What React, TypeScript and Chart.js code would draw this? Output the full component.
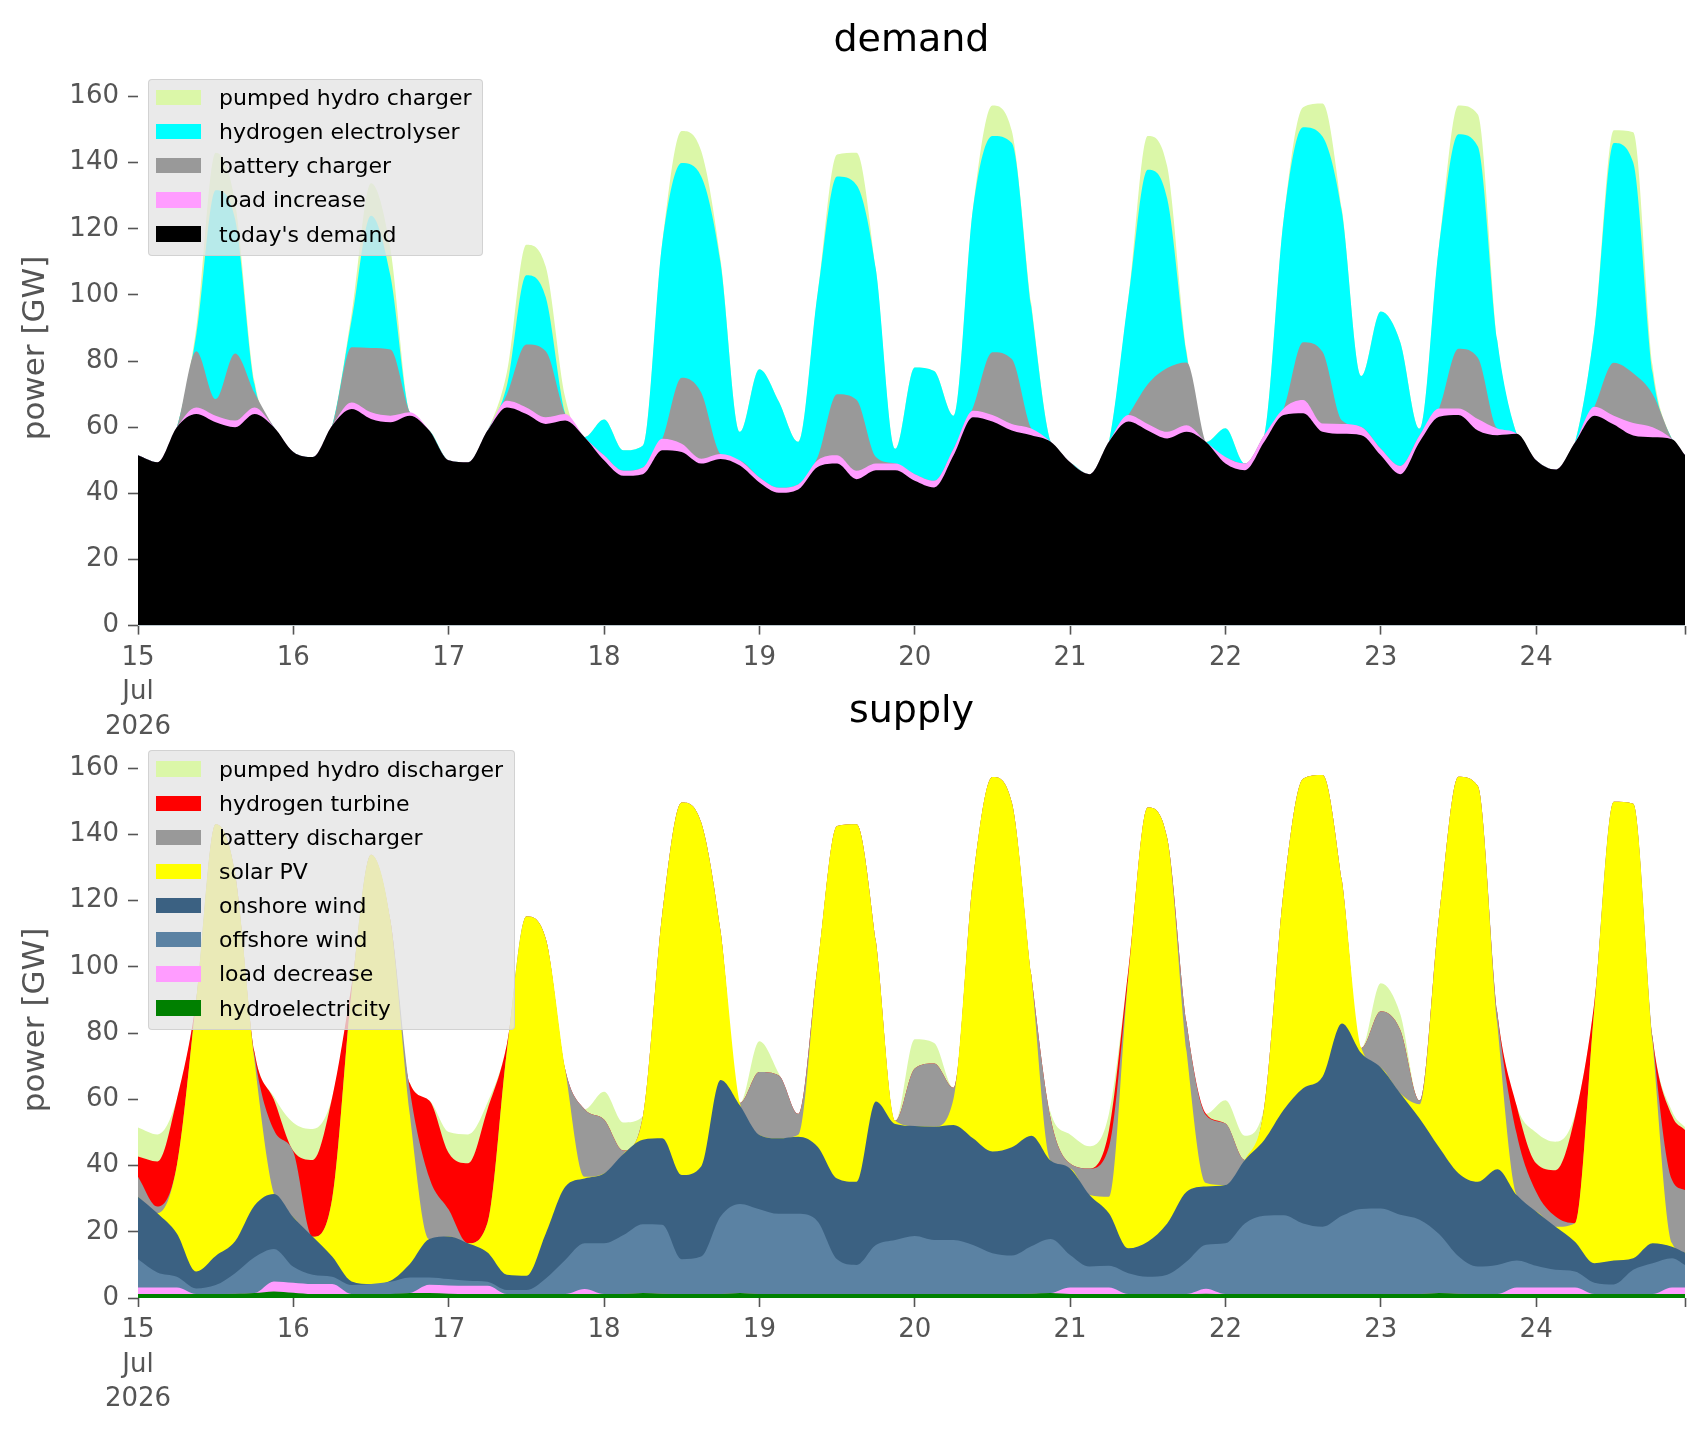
import React, { useEffect, useRef } from "react";
import { Chart, registerables } from "chart.js";

Chart.register(...registerables);

// ---------- time axis (hours since 15 Jul 2026 00:00) ----------
const hours: number[] = Array.from({ length: 80 }, (_, i) => i * 3).concat([239]);
const dayTicks = [0, 24, 48, 72, 96, 120, 144, 168, 192, 216, 239];
const dayLabels = ["15", "16", "17", "18", "19", "20", "21", "22", "23", "24", ""];
const monthLabel = "Jul";
const yearLabel = "2026";
const yTicks = [0, 20, 40, 60, 80, 100, 120, 140, 160];

// ---------- demand (GW) ----------
const todaysDemand = [
  51.5, 49.4, 60, 64, 61.5, 60, 64, 60,
  52.5, 51, 60.5, 65.5, 62.5, 61.5, 63.5, 59,
  50, 49.4, 59, 66, 64, 61, 62, 57,
  50, 45.3, 45.8, 53, 52.5, 49, 50.4, 48.4,
  43.3, 40.2, 41.2, 48, 49, 44.3, 47, 47,
  43.8, 41.8, 51.5, 63, 61.7, 59, 57.6, 55.6,
  49.4, 45.8, 55.6, 61.7, 59, 56.6, 58.6, 55.5,
  49, 47, 55.6, 63.7, 64.2, 58.6, 58, 57.6,
  51.5, 45.8, 55.6, 63.2, 63.7, 59, 57.6, 58,
  50, 47.2, 55.4, 63.5, 60.8, 57.5, 57, 56.4,
  51.6,
];
const loadIncrease = [
  0, 0, 0, 2, 2, 2, 2, 0,
  0, 0, 0, 2, 2, 2, 1, 0,
  0, 0, 0, 2, 2, 2, 2, 0,
  1.5, 1.5, 2, 3.5, 2.5, 1.5, 1.5, 1.5,
  1.5, 1.5, 1.5, 2, 2.5, 2.5, 2, 2,
  2, 2, 2, 2, 2, 2, 2, 0,
  0, 0, 0, 2, 2, 2, 2, 0,
  2, 2, 2, 2, 4, 2.5, 3, 2.5,
  2, 2.5, 2, 2.5, 2, 3.5, 2, 0,
  0, 0, 0, 2.7, 2.7, 3.8, 3, 0,
  0,
];
const batteryCharger = [
  0, 0, 0, 17, 5, 20.3, 4.4, 0,
  0, 0, 0, 16.7, 19.5, 20, 0, 0,
  0, 0, 0, 2, 19, 20, 0, 0,
  0, 0, 0, 0, 20, 20, 0, 0,
  0, 0, 0, 1, 18.5, 21.5, 2, 0,
  0, 0, 0, 1, 19, 19.6, 0, 0,
  0, 0, 0, 0, 12, 19.3, 19, 0,
  0, 0, 0, 0, 17.5, 21.7, 1, 0,
  0, 0, 0, 0, 18, 18.5, 0, 0,
  0, 0, 0, 0, 16, 15, 10, 0,
  0,
];
const hydrogenElectrolyser = [
  0, 0, 0, 5, 63.2, 40.7, 2.6, 0,
  0, 0, 0, 8.2, 40, 22.3, 0, 0,
  0, 0, 0, 2.7, 21, 16.3, 0, 0,
  10.8, 6.2, 6.7, 59.4, 64.9, 65.4, 57.8, 8.7,
  32.7, 26.1, 12.9, 49.5, 65.8, 65, 56.7, 4.5,
  32.3, 33.2, 10, 60.2, 65.4, 65.4, 36.9, 0,
  0, 0, 0, 35.3, 64.9, 51.3, 2.5, 0,
  8.7, 0, 0, 57.3, 65, 65.1, 63, 15.4,
  41.5, 37.5, 2, 49.2, 64.9, 63.9, 26.6, 0,
  0, 0, 0, 23.2, 66.5, 63.8, 6.4, 0,
  0,
];
const pumpedHydroCharger = [
  0, 0, 0, 2, 11.3, 5, 1, 0,
  0, 0, 0, 2, 9.8, 8.1, 0, 0,
  0, 0, 0, 4, 9.2, 9.2, 5, 0,
  0, 0, 0, 0, 9.7, 7.7, 1, 0,
  0, 0, 0, 0, 6.7, 9.7, 0, 0,
  0, 0, 0, 0, 9.2, 3.6, 1, 0,
  0, 0, 0, 0, 10.2, 9.7, 1, 0,
  0, 0, 0, 0, 6.1, 10, 1, 0,
  0, 0, 0, 0, 8.7, 9.7, 0, 0,
  0, 0, 0, 0, 3.8, 9.1, 2.2, 0,
  0,
];

// ---------- supply (GW) ----------
const hydroelectricity = [
  1.2, 1.2, 1.2, 1.2, 1.2, 1.3, 1.5, 2,
  1.6, 1.2, 1.2, 1.2, 1.2, 1.2, 1.5, 1.5,
  1.3, 1.2, 1.2, 1.2, 1.2, 1.2, 1.2, 1.2,
  1.2, 1.2, 1.5, 1.3, 1.2, 1.2, 1.2, 1.5,
  1.2, 1.2, 1.2, 1.2, 1.2, 1.2, 1.2, 1.2,
  1.2, 1.2, 1.2, 1.2, 1.2, 1.2, 1.3, 1.5,
  1.2, 1.2, 1.2, 1.2, 1.2, 1.2, 1.2, 1.3,
  1.2, 1.2, 1.2, 1.2, 1.2, 1.2, 1.2, 1.2,
  1.2, 1.2, 1.2, 1.5, 1.3, 1.2, 1.2, 1.2,
  1.2, 1.2, 1.2, 1.2, 1.2, 1.2, 1.2, 1.2,
  1.2,
];
const loadDecrease = [
  2, 2, 2, 0, 0, 0, 0, 3,
  3, 3, 3, 0, 0, 0, 0, 2.5,
  2.5, 2.5, 2.5, 0, 0, 0, 0, 1.5,
  0, 0, 0, 0, 0, 0, 0, 0,
  0, 0, 0, 0, 0, 0, 0, 0,
  0, 0, 0, 0, 0, 0, 0, 0,
  2, 2, 2, 0, 0, 0, 0, 1.5,
  0, 0, 0, 0, 0, 0, 0, 0,
  0, 0, 0, 0, 0, 0, 0, 2,
  2, 2, 2, 0, 0, 0, 0, 2,
  2,
];
const offshoreWind = [
  8.5, 4.5, 3.2, 1.7, 2.7, 6.2, 10.8, 9.8,
  4.8, 2.8, 2.2, 2.7, 3, 3.7, 4.7, 2.2,
  1.9, 1.5, 1.2, 1.2, 1.2, 4.7, 10.3, 13.8,
  15.3, 17.8, 20.8, 20.8, 10.5, 11.3, 23.4, 26.9,
  25.6, 24.2, 24.2, 21.9, 10.5, 8.8, 14.8, 16.3,
  17.5, 16.3, 16.3, 14.8, 12.3, 11.6, 14.3, 16.3,
  9.8, 6.3, 6.5, 6.3, 5.2, 5.8, 9.8, 13.3,
  15.3, 21.3, 23.6, 23.8, 21.3, 20.3, 23.6, 25.7,
  25.8, 23.9, 22.4, 17.8, 11.3, 8.3, 8.8, 8.1,
  6.5, 5.3, 4.8, 3.4, 2.9, 7.3, 9.3, 8.8,
  6.8,
];
const onshoreWind = [
  18.9, 17.9, 13.1, 5.1, 8.8, 9.6, 15.6, 16.6,
  15, 11.5, 6.1, 1.1, 0, 0.3, 4.1, 11.6,
  12.9, 11.3, 8.8, 4.6, 4.3, 13.6, 22.1, 19.6,
  21.1, 24.5, 25.5, 26.1, 25.4, 27.2, 41.2, 29.7,
  22.4, 22.8, 23.3, 22.6, 24.4, 25.1, 43.3, 35,
  33.2, 34.2, 34.7, 32.2, 30.7, 32.7, 33.4, 23.7,
  26.1, 21.6, 15.9, 7.5, 10.6, 15.5, 21.1, 17.6,
  17.6, 19.2, 22.9, 31.8, 40.8, 45.3, 58.1, 47,
  42.6, 36.7, 30.6, 26.2, 25.1, 25.6, 28.9, 19.8,
  16.4, 13, 9, 5.9, 7.2, 3.5, 6, 3.5,
  3.7,
];
const solarPV = [
  0, 0, 20.5, 82, 130.3, 111, 43.7, 0,
  0, 0, 17.5, 87.4, 129.6, 108.7, 45, 0,
  0, 0, 9, 67.7, 108.5, 89, 35.4, 0.5,
  0, 0, 7, 67.8, 112.5, 103.9, 44.9, 0.8,
  0, 0, 0.6, 54.8, 106.4, 107.9, 48.4, 1,
  0, 0, 8, 78, 113.1, 104.1, 48.6, 0,
  0, 0, 5, 82, 131.1, 116.4, 42.3, 1,
  0, 0, 9.9, 66.2, 93.5, 91.1, 43.1, 1.6,
  0, 0, 4.3, 69.7, 119.7, 119.5, 44, 0,
  0, 0, 5.6, 76.9, 138.5, 137.2, 60.5, 1,
  0,
];
const batteryDischarger = [
  6, 2, 0, 0, 0, 0, 1.7, 19.3,
  19.7, 0, 0, 0, 0, 0, 7.5, 18.6,
  8.1, 0, 0, 0, 0, 0, 0, 20.4,
  16.3, 1, 0, 0, 0, 0, 0, 0,
  19, 19, 6.3, 0, 0, 0, 0, 0,
  17.4, 19.1, 3.3, 0, 0, 0, 0, 12.7,
  1.5, 8, 15, 0, 0, 0, 8.7, 20.5,
  18.6, 0, 0, 0, 0, 0, 0, 0,
  17, 19.2, 1.1, 0, 0, 0, 3.3, 18.4,
  6, 3.1, 0, 0, 0, 0, 1.6, 19.1,
  18.9,
];
const hydrogenTurbine = [
  6.1, 13.6, 20, 0, 0, 0, 1, 9.2,
  0.3, 23.2, 30.5, 2, 0, 0, 2, 23.2,
  17.1, 24.2, 34.3, 2, 0, 0, 0, 0,
  0, 0, 0, 0, 0, 0, 0, 0,
  0, 0, 0, 0, 0, 0, 0, 0,
  0, 0, 0, 0, 0, 0, 0, 0,
  0, 0, 5, 2, 0, 0, 0, 0.4,
  0, 0, 0, 0, 0, 0, 0, 0,
  0, 0, 0, 0, 0, 0, 0, 8.5,
  8.6, 14, 32.1, 2, 0, 0, 0, 19.4,
  18.1,
];
const pumpedHydroDischarger = [
  8.8, 8.2, 0, 0, 0, 0, 0, 0.9,
  8.5, 9.3, 0, 0, 0, 0, 0, 0,
  6.3, 8.7, 2, 0, 0, 0, 0, 0,
  8.4, 8.5, 0, 0, 0, 0, 0, 0,
  9.3, 0.6, 0, 0, 0, 0, 0, 0,
  8.8, 6.2, 0, 0, 0, 0, 0, 1.7,
  8.8, 6.7, 5, 0, 0, 0, 0, 0,
  7, 7.3, 0, 0, 0, 0, 0, 0,
  8.4, 4.8, 0, 0, 0, 0, 0, 0,
  9.3, 8.6, 0.7, 0, 0, 0, 0, 1.4,
  0.9,
];

type Layer = { label: string; color: string; values: number[] };

// bottom of the stack first
const demandLayers: Layer[] = [
  { label: "today's demand", color: "#000000", values: todaysDemand },
  { label: "load increase", color: "#ff9cff", values: loadIncrease },
  { label: "battery charger", color: "#999999", values: batteryCharger },
  { label: "hydrogen electrolyser", color: "#00ffff", values: hydrogenElectrolyser },
  { label: "pumped hydro charger", color: "#dbf7a8", values: pumpedHydroCharger },
];
const supplyLayers: Layer[] = [
  { label: "hydroelectricity", color: "#008000", values: hydroelectricity },
  { label: "load decrease", color: "#ff9cff", values: loadDecrease },
  { label: "offshore wind", color: "#5b82a3", values: offshoreWind },
  { label: "onshore wind", color: "#3b6182", values: onshoreWind },
  { label: "solar PV", color: "#ffff00", values: solarPV },
  { label: "battery discharger", color: "#999999", values: batteryDischarger },
  { label: "hydrogen turbine", color: "#ff0000", values: hydrogenTurbine },
  { label: "pumped hydro discharger", color: "#dbf7a8", values: pumpedHydroDischarger },
];

const FONT = "'DejaVu Sans', 'Liberation Sans', sans-serif";
const TICK_COLOR = "#555555";
const Y_MAX = 168.5;

function xLabel(v: number): string | string[] {
  const idx = dayTicks.indexOf(v);
  if (idx === 0) return [dayLabels[0], monthLabel, yearLabel];
  return idx >= 0 ? dayLabels[idx] : "";
}

function StackChart(props: {
  layers: Layer[];
  top: number;
  width: number;
  height: number;
  padTop: number;
  xAxisHeight: number;
}) {
  const ref = useRef<HTMLCanvasElement | null>(null);
  useEffect(() => {
    if (!ref.current) return;
    const chart = new Chart(ref.current, {
      type: "line",
      data: {
        datasets: props.layers.map((l) => ({
          label: l.label,
          data: hours.map((h, i) => ({ x: h, y: l.values[i] })),
          backgroundColor: l.color,
          borderColor: l.color,
          borderWidth: 0,
          pointRadius: 0,
          fill: "origin",
          cubicInterpolationMode: "monotone",
        })),
      },
      options: {
        animation: false,
        responsive: false,
        devicePixelRatio: 1,
        events: [],
        layout: { padding: { left: 0, right: 21, top: props.padTop, bottom: 0 } },
        plugins: {
          legend: { display: false },
          tooltip: { enabled: false },
          title: { display: false },
        },
        scales: {
          x: {
            type: "linear",
            min: 0,
            max: 239,
            afterBuildTicks: (s: any) => {
              s.ticks = dayTicks.map((v) => ({ value: v }));
            },
            afterFit: (s: any) => {
              s.height = props.xAxisHeight;
            },
            ticks: {
              autoSkip: false,
              maxRotation: 0,
              minRotation: 0,
              padding: 6,
              color: TICK_COLOR,
              font: { family: FONT, size: 26, lineHeight: 1.33 },
              callback: (v: any) => xLabel(Number(v)),
            },
            grid: {
              display: true,
              drawOnChartArea: false,
              drawTicks: true,
              tickLength: 9,
              tickColor: TICK_COLOR,
              tickWidth: 1.6,
            },
            border: { display: false },
          },
          y: {
            type: "linear",
            stacked: true,
            min: 0,
            max: Y_MAX,
            afterBuildTicks: (s: any) => {
              s.ticks = yTicks.map((v) => ({ value: v }));
            },
            afterFit: (s: any) => {
              s.width = 138;
            },
            ticks: {
              padding: 9,
              color: TICK_COLOR,
              font: { family: FONT, size: 26 },
              callback: (v: any) => String(v),
            },
            grid: {
              display: true,
              drawOnChartArea: false,
              drawTicks: true,
              tickLength: 10,
              tickColor: TICK_COLOR,
              tickWidth: 1.6,
            },
            border: { display: false },
          },
        },
      } as any,
    });
    return () => chart.destroy();
  }, []);
  return (
    <canvas
      ref={ref}
      width={props.width}
      height={props.height}
      style={{
        position: "absolute",
        left: 0,
        top: props.top,
        width: props.width,
        height: props.height,
      }}
    />
  );
}

function Legend(props: { layers: Layer[]; left: number; top: number; width: number }) {
  const items = [...props.layers].reverse();
  const rowH = 34.1;
  return (
    <div
      style={{
        position: "absolute",
        left: props.left,
        top: props.top,
        width: props.width,
        height: items.length * rowH + 7,
        background: "rgba(229,229,229,0.8)",
        border: "1px solid rgba(204,204,204,0.8)",
        borderRadius: 4,
        boxSizing: "border-box",
      }}
    >
      {items.map((l, i) => (
        <div
          key={l.label}
          style={{
            position: "absolute",
            left: 0,
            top: 1.6 + i * rowH,
            height: rowH,
            width: "100%",
          }}
        >
          <div
            style={{
              position: "absolute",
              left: 7,
              top: rowH / 2 - 8.5,
              width: 45,
              height: 15.5,
              background: l.color,
            }}
          />
          <div
            style={{
              position: "absolute",
              left: 70,
              top: 0,
              height: rowH,
              lineHeight: rowH + "px",
              fontFamily: FONT,
              fontSize: 22,
              color: "#000000",
              whiteSpace: "nowrap",
            }}
          >
            {l.label}
          </div>
        </div>
      ))}
    </div>
  );
}

function Title(props: { text: string; cy: number }) {
  return (
    <div
      style={{
        position: "absolute",
        left: 138,
        width: 1685 - 138,
        top: props.cy - 22,
        height: 44,
        lineHeight: "44px",
        textAlign: "center",
        fontFamily: FONT,
        fontSize: 38,
        color: "#000000",
      }}
    >
      {props.text}
    </div>
  );
}

function YLabel(props: { cy: number }) {
  return (
    <div
      style={{
        position: "absolute",
        left: 33 - 150,
        top: props.cy - 20,
        width: 300,
        height: 40,
        lineHeight: "40px",
        textAlign: "center",
        transform: "rotate(-90deg)",
        fontFamily: FONT,
        fontSize: 31,
        color: TICK_COLOR,
      }}
    >
      power [GW]
    </div>
  );
}

export default function App() {
  return (
    <div
      style={{
        position: "absolute",
        left: 0,
        top: 0,
        width: 1706,
        height: 1431,
        background: "#ffffff",
        overflow: "hidden",
      }}
    >
      <StackChart layers={demandLayers} top={0} width={1706} height={740} padTop={68.5} xAxisHeight={740 - 625.6} />
      <StackChart layers={supplyLayers} top={680} width={1706} height={751} padTop={59.9} xAxisHeight={1431 - 1298} />
      <Title text="demand" cy={38} />
      <Title text="supply" cy={709} />
      <YLabel cy={348} />
      <YLabel cy={1020} />
      <Legend layers={demandLayers} left={148} top={78.6} width={335} />
      <Legend layers={supplyLayers} left={148} top={750.3} width={367} />
    </div>
  );
}
